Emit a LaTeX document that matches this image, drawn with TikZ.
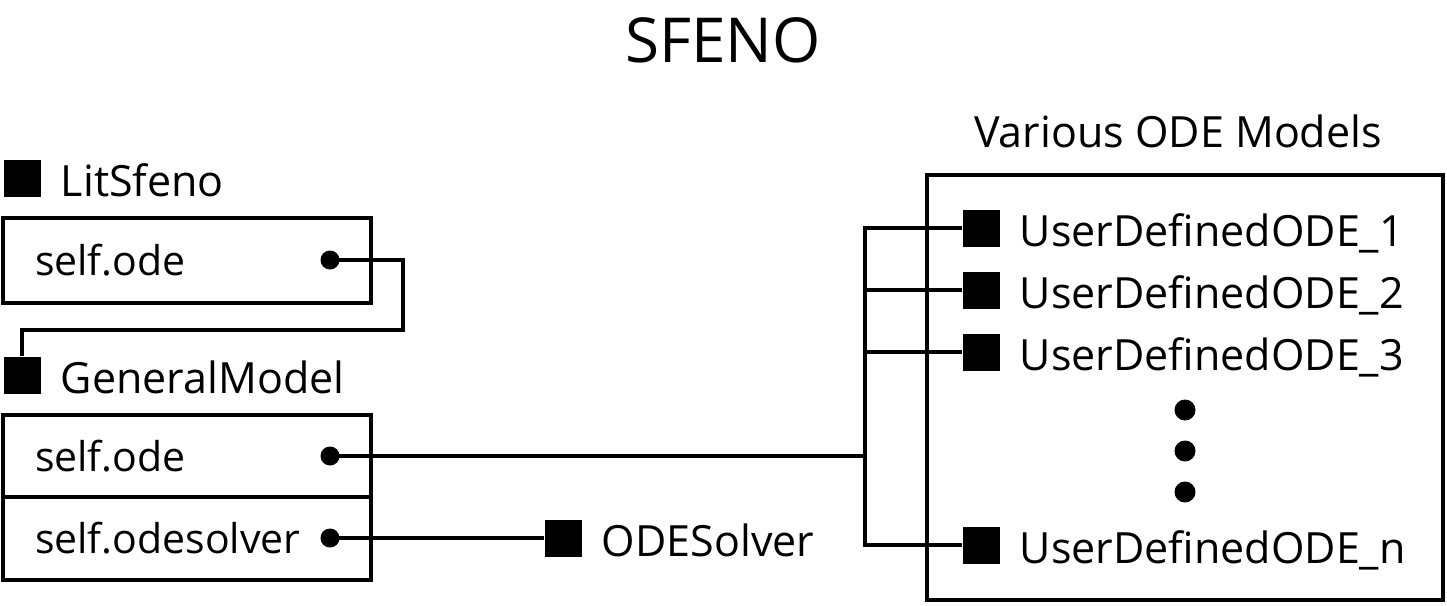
\documentclass[tikz,border=0pt]{standalone}
\usepackage{fontspec}
\setmainfont{Open Sans}
\usepackage{tikz}
\usetikzlibrary{positioning}

\begin{document}
\begin{tikzpicture}[x=1pt, y=-1pt,
  lbl/.style={font=\fontsize{43}{50}\selectfont, inner sep=0, anchor=base west},
  cls/.style={fill, minimum size=37, inner sep=0},
  field/.style={draw, line width=4, minimum height=83, text width=304,
                inner xsep=32, inner ysep=0, outer sep=0, align=left,
                font=\fontsize{41}{50}\selectfont},
  dot/.style={circle, fill, minimum size=19, inner sep=0},
  vdot/.style={circle, fill, minimum size=21, inner sep=0},
  wire/.style={line width=4}
]
  \useasboundingbox (0,0) rectangle (1447,605);
  \node[font=\fontsize{62}{70}\selectfont, inner sep=0, anchor=base]
    (title) at (723,62) {SFENO};

  \node[cls] (litsq) at (22,178) {};
  \node[lbl] (lit) at ([xshift=20]litsq.south east) {LitSfeno};
  \node[field, minimum height=85] (litode) at (187,260.5) {self.ode};
  \node[dot] (litdot) at (330,260) {};

  \node[cls] (gmsq) at (22,375) {};
  \node[lbl] (gm) at ([xshift=20]gmsq.south east) {GeneralModel};
  \node[field, minimum height=82] (gmode) at (187,456) {self.ode};
  \node[field, below=0pt of gmode] (gmsolver) {self.odesolver};
  \node[dot] (gmodedot) at (330,456) {};
  \node[dot] (gmsolverdot) at (330,538) {};

  \node[cls] (solversq) at (563,538) {};
  \node[lbl] (solver) at ([xshift=20]solversq.south east) {ODESolver};

  \node[draw, line width=4, minimum width=516, minimum height=425, inner sep=0]
    (models) at (1185,387.5) {};
  \node[lbl, anchor=base] (modelslbl) at (1178,147) {Various ODE Models};
  \coordinate (bus) at (865,0);
  \foreach \y/\n in {228/1, 290/2, 352/3, 545/n} {
    \node[cls] (sq\n) at (981,\y) {};
    \node[lbl] (ode\n) at ([xshift=20]sq\n.south east) {UserDefinedODE\_\n};
  }
  \foreach \y [count=\i] in {410, 451, 492}
    \node[vdot] (ell\i) at (1185,\y) {};

  \coordinate (litbend) at (403,330);
  \draw[wire] (litdot.center) -| (litbend) -| (gmsq.north);
  \draw[wire] (gmsolverdot.center) -- (solversq.west);
  \draw[wire] (gmodedot.center) -- (bus|-gmodedot);
  \draw[wire] (sq1.west) -| (bus|-sqn) -- (sqn.west);
  \draw[wire] (bus|-sq2) -- (sq2.west);
  \draw[wire] (bus|-sq3) -- (sq3.west);
\end{tikzpicture}
\end{document}
